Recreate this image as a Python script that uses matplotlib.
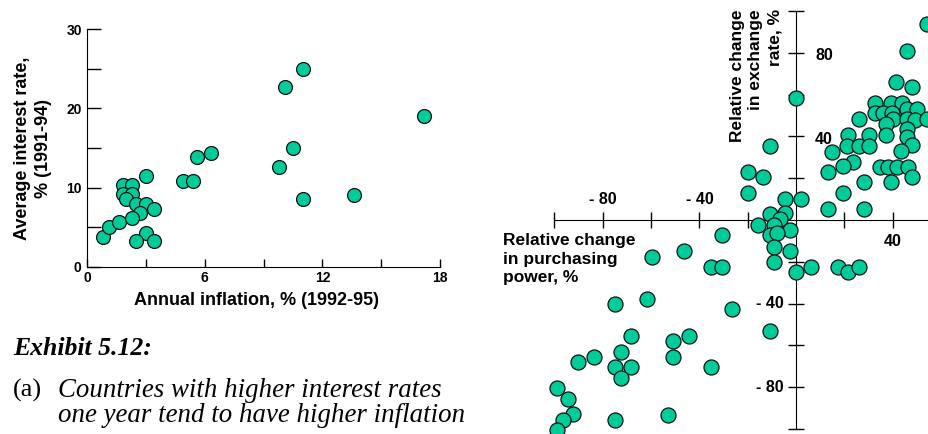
import matplotlib.pyplot as plt

plt.rcParams['font.family'] = ['Liberation Sans', 'DejaVu Sans']

# (a) inflation vs interest rate
inflation = [0.8, 1.1, 1.6, 1.8, 2.3, 1.8, 2.3, 2.0, 2.5, 3.0, 2.7, 2.3, 3.0, 3.4,
             3.0, 2.5, 3.4, 4.9, 5.4, 5.6, 6.3, 9.8, 10.1, 10.5, 11.0, 11.0, 13.6, 17.2]
interest = [3.8, 5.0, 5.7, 10.3, 10.3, 9.2, 9.2, 8.5, 7.9, 7.9, 6.8, 6.2, 11.5, 7.3,
            4.3, 3.2, 3.2, 10.8, 10.8, 13.9, 14.4, 12.6, 22.7, 15.0, 25.0, 8.5, 9.1, 19.1]

# (b) purchasing power vs exchange rate
purchasing = [54.1, 45.8, 41.4, 47.9, -0.1, 32.7, 39.2, 43.7, 45.8, 50.2, 32.7, 35.9,
              39.6, 40.3, 45.8, 49.2, 54.1, 26.2, 37.2, 45.8, 21.6, 30.3, 37.0, 46.1,
              21.2, 26.2, 30.3, 47.9, 43.4, 14.9, 23.7, 19.6, 34.8, 38.2, 41.9, 46.2,
              13.0, 47.9, 28.1, 39.2, 19.6, 13.0, 28.1, -11.0, -20.1, -13.5, -20.1, -4.6,
              1.9, -11.0, -4.6, -6.6, -15.6, -9.1, -2.5, -11.0, -8.0, -9.1, -2.5, -9.1,
              -0.2, 6.2, 17.2, 21.6, 26.1, -30.6, -46.3, -59.5, -35.3, -30.5, -74.9, -61.5,
              -26.4, -11.0, -68.3, -44.2, -50.8, -72.5, -83.6, -90.1, -74.9, -68.3, -50.8,
              -72.5, -35.3, -98.8, -94.5, -92.2, -96.5, -98.8, -74.9, -52.8]
exchange = [93.8, 81.0, 65.9, 63.5, 58.2, 56.1, 56.1, 56.1, 53.1, 53.1, 51.1, 51.1,
            51.1, 48.2, 48.2, 47.8, 48.2, 48.2, 45.9, 43.5, 40.7, 40.9, 40.9, 39.5,
            35.4, 35.6, 35.4, 35.9, 33.2, 32.7, 27.9, 25.8, 25.5, 25.5, 25.5, 25.5,
            23.1, 20.4, 18.3, 18.0, 12.8, 5.4, 5.3, 35.6, 23.1, 20.7, 13.1, 10.3,
            10.3, 3.1, 3.2, 0.5, -2.4, -2.4, -5.0, -7.2, -6.4, -12.7, -14.8, -20.1,
            -25.1, -22.7, -22.6, -25.1, -22.6, -7.2, -14.7, -17.6, -22.6, -22.6, -40.2, -37.9,
            -42.7, -53.0, -55.4, -55.4, -57.9, -63.0, -65.4, -68.1, -70.5, -70.5, -65.4,
            -75.5, -70.5, -80.5, -85.8, -93.0, -95.7, -100.5, -95.7, -93.3]

dot = '#00CC99'
W, H = 929, 434
fig = plt.figure(figsize=(W / 100, H / 100), dpi=100)

# ---- left chart
ax1 = fig.add_axes([87.3 / W, 1 - 266.7 / H, 352.7 / W, 237.4 / H])
ax1.scatter(inflation, interest, s=100, c=dot, edgecolors='#111111', linewidths=0.9,
            clip_on=False, zorder=3)
ax1.set_xlim(0, 18)
ax1.set_ylim(0, 30)
ax1.spines['top'].set_visible(False)
ax1.spines['right'].set_visible(False)
ax1.set_xticks([0, 3, 6, 9, 12, 15, 18], ['0', '', '6', '', '12', '', '18'])
ax1.set_yticks([0, 5, 10, 15, 20, 25, 30], ['0', '', '10', '', '20', '', '30'])
ax1.tick_params(axis='x', direction='in', length=6, width=1, labelsize=10, pad=3)
ax1.tick_params(axis='y', direction='in', length=10, width=1, labelsize=10, pad=4)
for lab in ax1.get_xticklabels() + ax1.get_yticklabels():
    lab.set_fontweight('bold')
ax1.set_xlabel('Annual inflation, % (1992-95)', fontsize=13, fontweight='bold')
ax1.xaxis.set_label_coords(0.48, -0.105)
ax1.set_ylabel('Average interest rate,\n% (1991-94)', fontsize=13, fontweight='bold',
               linespacing=1.3)
ax1.yaxis.set_label_coords(-0.1, 0.5)

# ---- right chart
ax2 = fig.add_axes([480 / W, 0, 449 / W, 1])
ax2.scatter(purchasing, exchange, s=117, c=dot, edgecolors='#111111', linewidths=0.9,
            zorder=3)
ax2.set_xlim(-130.8, 55.0)
ax2.set_ylim(-102.4, 105.3)
ax2.spines['top'].set_visible(False)
ax2.spines['right'].set_visible(False)
ax2.spines['left'].set_position(('data', 0))
ax2.spines['bottom'].set_position(('data', 0))
ax2.spines['left'].set_bounds(-100, 100)
ax2.spines['bottom'].set_bounds(-100, 55)
ax2.set_xticks([-100, -80, -60, -40, -20, 20, 40])
ax2.set_yticks([-100, -80, -60, -40, -20, 20, 40, 60, 80, 100])
ax2.tick_params(direction='inout', length=11, width=1, labelleft=False, labelbottom=False)
ax2.patch.set_visible(False)

tfont = dict(fontsize=11.5, fontweight='bold')
for v in [-80, -40]:
    ax2.text(v, 10, '- %d' % abs(v), ha='center', va='center', **tfont)
ax2.text(40, -10.4, '40', ha='center', va='center', **tfont)
for v in [80, 40]:
    ax2.text(7.9, v - 1.5, '%d' % v, ha='left', va='center', **tfont)
for v in [-40, -80]:
    ax2.text(-5.0, v, '- %d' % abs(v), ha='right', va='center', **tfont)

fig.text(756 / W, 1 - 9 / H, 'Relative change\nin exchange\nrate, %', rotation=90,
         ha='center', va='top', multialignment='right', fontsize=12.5,
         fontweight='bold', linespacing=1.3)
fig.text(503 / W, 1 - 233 / H, 'Relative change\nin purchasing\npower, %',
         ha='left', va='top', fontsize=12.5, fontweight='bold', linespacing=1.3)

# ---- caption
serif = ['Liberation Serif', 'DejaVu Serif']
fig.text(12.7 / W, 1 - 355 / H, 'Exhibit 5.12:', family=serif, fontsize=18.5,
         fontweight='bold', style='italic', va='baseline')
fig.text(12.7 / W, 1 - 397 / H, '(a)', family=serif, fontsize=19, va='baseline')
fig.text(58.3 / W, 1 - 397 / H, 'Countries with higher interest rates', family=serif,
         fontsize=19.4, style='italic', va='baseline')
fig.text(58.3 / W, 1 - 421.7 / H, 'one year tend to have higher inflation', family=serif,
         fontsize=19.4, style='italic', va='baseline')

fig.savefig('out.png', dpi=100)
